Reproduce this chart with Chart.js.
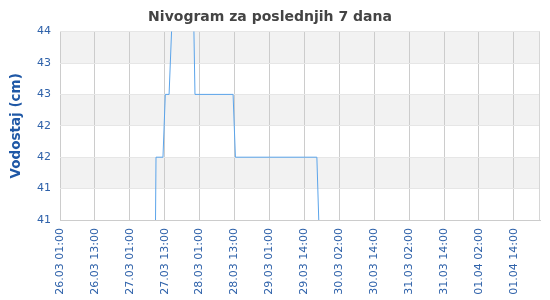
<!DOCTYPE html>
<html>
<head>
<meta charset="utf-8">
<style>
  html, body { margin: 0; padding: 0; background: #ffffff; }
  #wrap { width: 550px; height: 300px; position: relative; }
</style>
<script src="https://cdn.jsdelivr.net/npm/chart.js@4/dist/chart.umd.min.js"></script>
</head>
<body>
<div id="wrap"><canvas id="c" width="550" height="300"></canvas></div>
<script>
// ---- data (hours since 26.03 01:00, water level in cm) ----
const hours  = [32.5, 33.0, 35.4, 36.2, 37.5, 38.6, 40.0, 44.0, 45.6, 46.4, 59.5, 60.3, 88.3, 89.6];
const levels = [39,   42,   42,   43,   43,   44.3, 45,   45.5, 45.2, 43,   43,   42,   42,   40];

// x tick positions (hours since start) and their labels
const xTickHours  = [0, 12, 24, 36, 48, 60, 72, 84, 96, 108, 120, 132, 144, 156];
const xTickLabels = ['26.03 01:00', '26.03 13:00', '27.03 01:00', '27.03 13:00',
                     '28.03 01:00', '28.03 13:00', '29.03 01:00', '29.03 14:00',
                     '30.03 02:00', '30.03 14:00', '31.03 02:00', '31.03 14:00',
                     '01.04 02:00', '01.04 14:00'];
const xMin = 0, xMax = 165;

// y ticks and their labels
const yTickValues = [41, 41.5, 42, 42.5, 43, 43.5, 44];
const yTickLabels = ['41', '41', '42', '42', '43', '43', '44'];

const titleText  = 'Nivogram za poslednjih 7 dana';
const yTitleText = 'Vodostaj (cm)';

const points = hours.map((h, i) => ({ x: h, y: levels[i] }));

const bandsPlugin = {
  id: 'bands',
  beforeDraw(chart) {
    const { ctx, chartArea: a, scales: { y } } = chart;
    ctx.save();
    ctx.fillStyle = '#f2f2f2';
    // alternate bands, starting from the top interval
    for (let i = yTickValues.length - 1; i > 0; i -= 2) {
      const top = y.getPixelForValue(yTickValues[i]);
      const bot = y.getPixelForValue(yTickValues[i - 1]);
      ctx.fillRect(a.left, top, a.right - a.left, bot - top);
    }
    ctx.restore();
  },
  beforeDatasetsDraw(chart) {
    const { ctx, chartArea: a } = chart;
    ctx.save();
    ctx.strokeStyle = '#d6d6d6';
    ctx.lineWidth = 1;
    ctx.beginPath();
    ctx.moveTo(Math.round(a.right) - 0.5, a.top);
    ctx.lineTo(Math.round(a.right) - 0.5, a.bottom);
    ctx.stroke();
    ctx.restore();
  }
};

new Chart(document.getElementById('c'), {
  type: 'line',
  data: {
    datasets: [{
      data: points,
      borderColor: '#5ba4ea',
      borderWidth: 1,
      pointRadius: 0,
      pointHoverRadius: 0,
      tension: 0,
      fill: false
    }]
  },
  plugins: [bandsPlugin],
  options: {
    responsive: false,
    animation: false,
    events: [],
    layout: { padding: { left: 0, right: 10, top: 0, bottom: 0 } },
    plugins: {
      legend: { display: false },
      tooltip: { enabled: false },
      title: {
        display: true,
        text: titleText,
        color: '#444444',
        font: { family: 'DejaVu Sans', size: 14, weight: 'bold', lineHeight: 1.2 },
        padding: { top: 8.5, bottom: 6.3 }
      }
    },
    scales: {
      x: {
        type: 'linear',
        min: xMin,
        max: xMax,
        afterBuildTicks(scale) {
          scale.ticks = xTickHours.map(v => ({ value: v }));
        },
        afterFit(scale) { scale.height = 80; },
        ticks: {
          autoSkip: false,
          minRotation: 90,
          maxRotation: 90,
          padding: 8,
          color: '#2f62aa',
          font: { family: 'DejaVu Sans', size: 11 },
          callback(value) {
            const i = xTickHours.indexOf(value);
            return i >= 0 ? xTickLabels[i] : '';
          }
        },
        grid: { color: '#cccccc', lineWidth: 1, drawTicks: false },
        border: { color: '#cccccc', width: 1 }
      },
      y: {
        type: 'linear',
        min: yTickValues[0],
        max: yTickValues[yTickValues.length - 1],
        afterBuildTicks(scale) {
          scale.ticks = yTickValues.map(v => ({ value: v }));
        },
        afterFit(scale) { scale.width = 60; },
        ticks: {
          padding: 9,
          color: '#2f62aa',
          font: { family: 'DejaVu Sans', size: 11 },
          callback(value) {
            const i = yTickValues.indexOf(value);
            return i >= 0 ? yTickLabels[i] : '';
          }
        },
        grid: { color: '#e6e6e6', lineWidth: 1, drawTicks: false },
        border: { display: false },
        title: {
          display: true,
          text: yTitleText,
          color: '#1f58a6',
          font: { family: 'DejaVu Sans', size: 13.5, weight: 'bold', lineHeight: 1.2 },
          padding: { top: 8.5, bottom: 0 }
        }
      }
    }
  }
});
</script>
</body>
</html>
